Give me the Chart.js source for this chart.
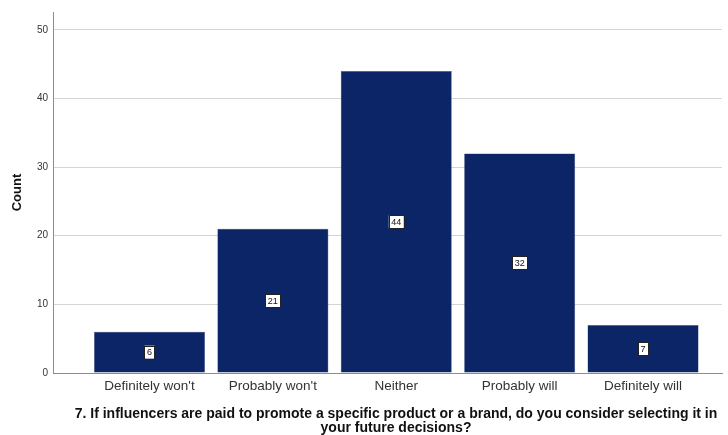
<!DOCTYPE html>
<html>
<head>
<meta charset="utf-8">
<script src="https://cdn.jsdelivr.net/npm/chart.js@4/dist/chart.umd.min.js"></script>
<style>
  html, body { margin: 0; padding: 0; background: #fff; }
  #wrap { width: 728px; height: 435px; }
</style>
</head>
<body>
<div id="wrap"><canvas id="grafico"></canvas></div>
<script>
// dados
const categorias = ["Definitely won't", "Probably won't", "Neither", "Probably will", "Definitely will"];
const contagens = [6, 21, 44, 32, 7];
const ticksY = [0, 10, 20, 30, 40, 50];
const tituloX = ["7. If influencers are paid to promote a specific product or a brand, do you consider selecting it in", "your future decisions?"];
const tituloY = "Count";

// rótulo com caixa branca no meio de cada barra
const rotulosBarras = {
    id: 'rotulosBarras',
    afterDatasetsDraw(chart) {
        const ctx = chart.ctx;
        const meta = chart.getDatasetMeta(0);
        ctx.save();
        ctx.font = '9px "Liberation Sans", Arial, sans-serif';
        ctx.textAlign = 'center';
        ctx.textBaseline = 'middle';
        meta.data.forEach((bar, i) => {
            const texto = String(contagens[i]);
            const meio = (bar.y + bar.base) / 2;
            const w = ctx.measureText(texto).width + 5;
            const h = 13;
            ctx.fillStyle = '#ffffff';
            ctx.fillRect(bar.x - w / 2, meio - h / 2, w, h);
            ctx.strokeStyle = '#222';
            ctx.lineWidth = 1;
            ctx.strokeRect(Math.round(bar.x - w / 2) + 0.5, Math.round(meio - h / 2) + 0.5, Math.round(w), h);
            ctx.fillStyle = '#111';
            ctx.fillText(texto, bar.x, meio + 0.5);
        });
        ctx.restore();
    }
};

// título do eixo x (SPSS centraliza um pouco à direita da área do gráfico)
const tituloEixoX = {
    id: 'tituloEixoX',
    afterDraw(chart) {
        const ctx = chart.ctx;
        const area = chart.chartArea;
        const cx = (area.left + area.right) / 2 + 8.5;
        ctx.save();
        ctx.font = 'bold 14px "Liberation Sans", Arial, sans-serif';
        ctx.fillStyle = '#111';
        ctx.textAlign = 'center';
        ctx.textBaseline = 'middle';
        tituloX.forEach((linha, i) => {
            ctx.fillText(linha, cx, area.bottom + 41 + i * 14);
        });
        ctx.restore();
    }
};

const ctxGrafico = document.getElementById('grafico').getContext('2d');
new Chart(ctxGrafico, {
    type: 'bar',
    data: {
        datasets: [{
            data: contagens.map((v, i) => ({ x: i, y: v })),
            backgroundColor: '#0c2566',
            borderColor: '#4a5a8c',
            borderWidth: 0.5,
            barPercentage: 0.9,
            categoryPercentage: 1
        }]
    },
    options: {
        responsive: true,
        maintainAspectRatio: false,
        animation: false,
        layout: { padding: { top: 12, right: 6, left: 0, bottom: 0 } },
        plugins: {
            legend: { display: false },
            tooltip: { enabled: false }
        },
        scales: {
            x: {
                type: 'linear',
                offset: false,
                min: -0.782,
                max: 4.64,
                afterBuildTicks: (scale) => {
                    scale.ticks = categorias.map((c, i) => ({ value: i }));
                },
                afterFit: (scale) => { scale.height = 62; },
                grid: { display: false, drawTicks: false },
                border: { display: true, color: '#8c8c8c', width: 1 },
                ticks: {
                    autoSkip: false,
                    maxRotation: 0,
                    padding: 5,
                    color: '#333',
                    font: { family: '"Liberation Sans", Arial, sans-serif', size: 13.5 },
                    callback: (v) => categorias[v] ?? ''
                }
            },
            y: {
                min: 0,
                max: 52.6,
                afterBuildTicks: (scale) => {
                    scale.ticks = ticksY.map(v => ({ value: v }));
                },
                afterFit: (scale) => { scale.width = 53; },
                grid: { color: '#d4d4d4', lineWidth: 1, drawTicks: false },
                border: { display: true, color: '#8c8c8c', width: 1 },
                ticks: {
                    padding: 5,
                    color: '#333',
                    font: { family: '"Liberation Sans", Arial, sans-serif', size: 10 }
                },
                title: {
                    display: true,
                    text: tituloY,
                    color: '#111',
                    font: { family: '"Liberation Sans", Arial, sans-serif', size: 13, weight: 'bold' },
                    padding: { top: 10, bottom: 6 }
                }
            }
        }
    },
    plugins: [rotulosBarras, tituloEixoX]
});
</script>
</body>
</html>
